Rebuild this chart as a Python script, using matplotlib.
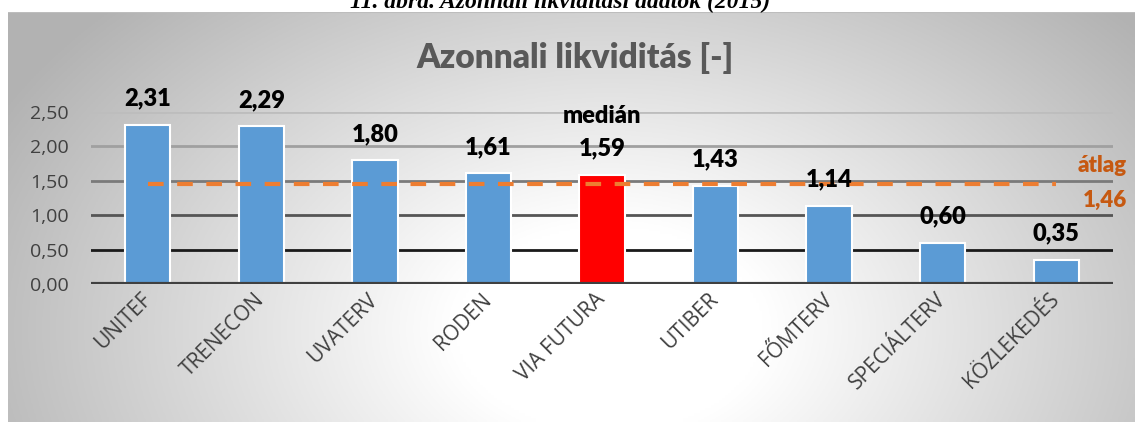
import matplotlib
matplotlib.use("Agg")
import matplotlib.pyplot as plt
import numpy as np

# data
categories = ["UNITEF", "TRENECON", "UVATERV", "RODEN", "VIA FUTURA",
              "UTIBER", "FŐMTERV", "SPECIÁLTERV", "KÖZLEKEDÉS"]
values = [2.31, 2.29, 1.80, 1.61, 1.59, 1.43, 1.14, 0.60, 0.35]
median_name = "VIA FUTURA"
average = 1.46
yticks = [0.0, 0.5, 1.0, 1.5, 2.0, 2.5]
ytick_labels = ["0,00", "0,50", "1,00", "1,50", "2,00", "2,50"]

W, H = 1135, 422
fig = plt.figure(figsize=(W / 100, H / 100), dpi=100)
fig.patch.set_facecolor("white")

# radial gradient background of the chart frame
bg = fig.add_axes([8 / W, 0, 1 - 8 / W, (H - 12) / H])
bg.set_axis_off()
xx, yy = np.meshgrid(np.linspace(8, W, 400), np.linspace(12, H, 160))
d = np.sqrt(((xx - 610) / 620) ** 2 + ((yy - 330) / 420) ** 2)
g = np.clip(1.0 - 0.26 * np.clip((d - 0.25) / 0.75, 0, 1.2), 0.7, 1.0)
bg.imshow(np.dstack([g, g, g]), extent=[0, 1, 0, 1], aspect="auto", origin="upper")
bg.set_xlim(0, 1)
bg.set_ylim(0, 1)
bg.plot([0, 1], [1, 1], color="#bdbdbd", lw=1.5)

# caption, cut off at the top like in the source
fig.text(560 / W, 1 - 8 / H, "11. ábra. Azonnali likviditási adatok (2015)",
         ha="center", va="baseline", fontsize=17, fontweight="bold",
         fontstyle="italic", family="Liberation Serif", color="black")

ax = fig.add_axes([91 / W, (H - 284) / H, (1113 - 91) / W, 172 / H])
ax.patch.set_alpha(0)
x = np.arange(len(categories))
colors = ["#FF0000" if c == median_name else "#5B9BD5" for c in categories]
ax.bar(x, values, width=0.4, color=colors, edgecolor="white", linewidth=1.5, zorder=3)
ax.set_xlim(-0.5, len(categories) - 0.5)
ax.set_ylim(0, 2.5)

grid_colors = ["#404040", "#1a1a1a", "#555555", "#7a7a7a", "#a0a0a0", "#bdbdbd"]
for yv, gc in zip(yticks[1:], grid_colors[1:]):
    ax.axhline(yv, color=gc, lw=2, zorder=1)
ax.axhline(0, color="#404040", lw=3, zorder=4)

for s in ax.spines.values():
    s.set_visible(False)
ax.set_yticks(yticks)
ax.set_yticklabels(ytick_labels, family="Open Sans", fontsize=14, color="#404040")
ax.tick_params(axis="y", length=0, pad=16)
ax.set_xticks(x)
ax.set_xticklabels(categories, rotation=45, ha="right", va="center",
                   rotation_mode="anchor", family="Open Sans", fontsize=15,
                   color="#404040")
ax.tick_params(axis="x", length=0, pad=9)

# average line
ax.plot([x[0], x[-1]], [average, average], color="#ED7D31", lw=3,
        dashes=(3.75, 3.25), zorder=5)

for xi, v, c in zip(x, values, categories):
    ax.annotate(f"{v:.2f}".replace(".", ","), (xi, v), xytext=(0, 11),
                textcoords="offset points", ha="center", va="bottom",
                fontsize=17, fontweight="heavy", family="Lato", color="black",
                annotation_clip=False, zorder=6)
    if c == median_name:
        ax.annotate("medián", (xi, v), xytext=(0, 34),
                    textcoords="offset points", ha="center", va="bottom",
                    fontsize=17, fontweight="heavy", family="Lato",
                    color="black", annotation_clip=False, zorder=6)

ax.text(1127 / W, (H - 166) / H, "átlag", transform=fig.transFigure,
        ha="right", va="center", fontsize=16, fontweight="heavy",
        family="Lato", color="#C65911")
ax.text(1127 / W, (H - 200) / H, f"{average:.2f}".replace(".", ","),
        transform=fig.transFigure, ha="right", va="center", fontsize=16,
        fontweight="heavy", family="Lato", color="#C65911")

fig.text(575 / W, (H - 58) / H, "Azonnali likviditás [-]", ha="center",
         va="center", fontsize=24, fontweight="heavy", family="Lato",
         color="#595959")

fig.savefig("out.png", dpi=100)
